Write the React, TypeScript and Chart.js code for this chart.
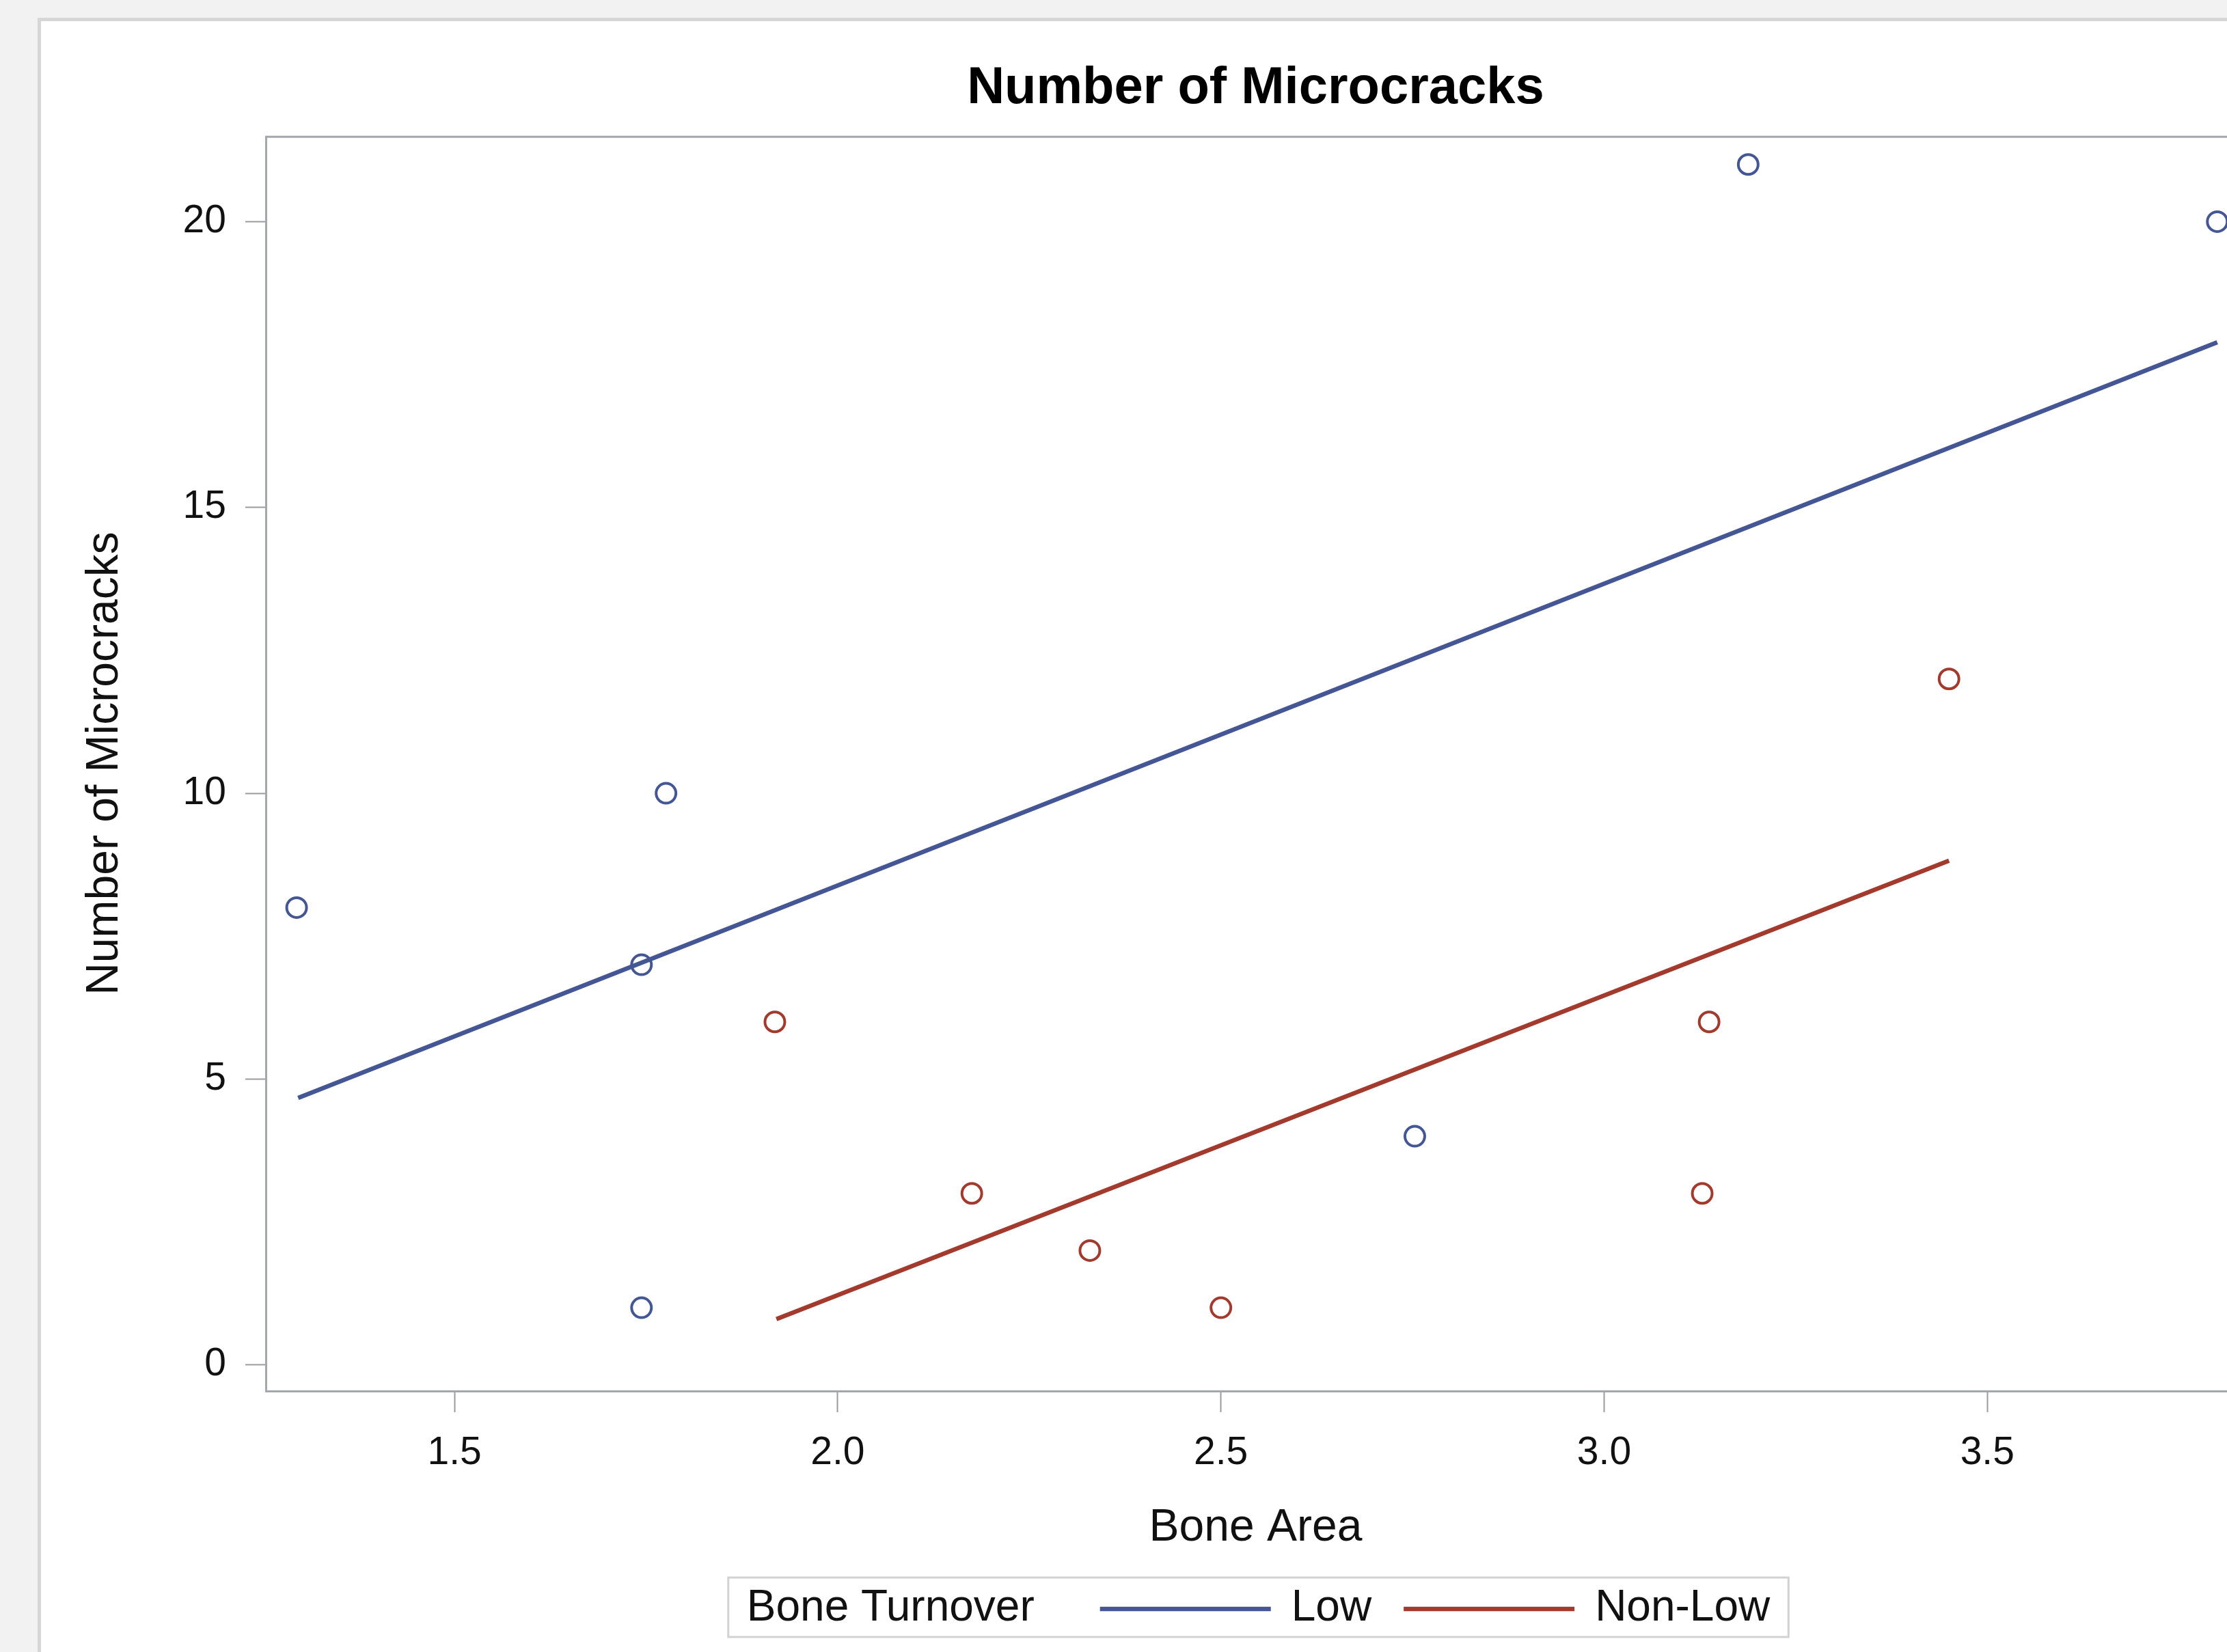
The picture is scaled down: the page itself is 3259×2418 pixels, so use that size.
import React, { useEffect, useRef } from "react";
import { Chart, registerables } from "chart.js";

Chart.register(...registerables);

// ---- data ----
const TITLE = "Number of Microcracks";
const X_LABEL = "Bone Area";
const Y_LABEL = "Number of Microcracks";
const LEGEND_TITLE = "Bone Turnover";
const groups = ["Low", "Non-Low"];

const lowX = [1.294, 1.776, 1.744, 1.744, 2.753, 3.188, 3.8];
const lowY = [8, 10, 7, 1, 4, 21, 20];
const nonLowX = [1.918, 2.175, 2.329, 2.5, 3.137, 3.128, 3.45];
const nonLowY = [6, 3, 2, 1, 6, 3, 12];

const lowFitX = [1.296, 3.8];
const lowFitY = [4.67, 17.89];
const nonLowFitX = [1.92, 3.45];
const nonLowFitY = [0.8, 8.82];

const xTickValues = [1.5, 2.0, 2.5, 3.0, 3.5];
const yTickValues = [0, 5, 10, 15, 20];

// ---- styling ----
const FONT = "'Liberation Sans', Arial, Helvetica, sans-serif";
const BLUE = "#445694";
const RED = "#A23A2E";
const TEXT = "#111111";
const FRAME = "#a2a8ae";
const TICK = "#9a9a9a";

const toPts = (xs: number[], ys: number[]) => xs.map((x, i) => ({ x, y: ys[i] }));

const framePlugin = {
  id: "frame",
  beforeDatasetsDraw(chart: any) {
    const { ctx, chartArea: a } = chart;
    ctx.save();
    ctx.strokeStyle = FRAME;
    ctx.lineWidth = 3;
    ctx.strokeRect(a.left - 1.5, a.top, a.right - a.left + 1.5, a.bottom - a.top + 1.5);
    ctx.restore();
  },
};

const legendPlugin = {
  id: "sasLegend",
  afterDraw(chart: any) {
    const { ctx, chartArea: a } = chart;
    const fits = chart.data.datasets.filter((d: any) => d.isFit);
    ctx.save();
    ctx.font = `64px ${FONT}`;
    const padX = 27;
    const titleGap = 96;
    const lineW = 250;
    const lineGap = 30;
    const itemGap = 47;
    const titleW = ctx.measureText(LEGEND_TITLE).width;
    const itemWs = fits.map((d: any) => ctx.measureText(d.label).width);
    let total = padX + titleW + titleGap + padX;
    itemWs.forEach((w: number, i: number) => {
      total += lineW + lineGap + w + (i < itemWs.length - 1 ? itemGap : 0);
    });
    const cx = (a.left + a.right) / 2 + 4;
    const left = cx - total / 2;
    const top = 2309;
    const bottom = 2396;
    const baseline = 2372;
    const lineY = 2355;
    ctx.strokeStyle = "#d2d2d2";
    ctx.lineWidth = 3;
    ctx.strokeRect(left, top, total, bottom - top);
    ctx.fillStyle = TEXT;
    ctx.textBaseline = "alphabetic";
    ctx.textAlign = "left";
    let x = left + padX;
    ctx.fillText(LEGEND_TITLE, x, baseline);
    x += titleW + titleGap;
    fits.forEach((d: any, i: number) => {
      ctx.strokeStyle = d.borderColor;
      ctx.lineWidth = d.borderWidth;
      ctx.beginPath();
      ctx.moveTo(x, lineY);
      ctx.lineTo(x + lineW, lineY);
      ctx.stroke();
      x += lineW + lineGap;
      ctx.fillText(d.label, x, baseline);
      x += itemWs[i] + itemGap;
    });
    ctx.restore();
  },
};

export default function App() {
  const ref = useRef<HTMLCanvasElement | null>(null);

  useEffect(() => {
    if (!ref.current) return;
    const tickFont = { family: FONT, size: 57 };
    const labelFont = { family: FONT, size: 66, lineHeight: 1.2 };
    const chart = new Chart(ref.current, {
      type: "scatter",
      data: {
        datasets: [
          {
            label: groups[0],
            isFit: true,
            data: toPts(lowFitX, lowFitY),
            showLine: true,
            borderColor: BLUE,
            borderWidth: 6.5,
            pointRadius: 0,
            fill: false,
            order: 3,
          } as any,
          {
            label: groups[1],
            isFit: true,
            data: toPts(nonLowFitX, nonLowFitY),
            showLine: true,
            borderColor: RED,
            borderWidth: 6.5,
            pointRadius: 0,
            fill: false,
            order: 3,
          } as any,
          {
            label: groups[0] + " points",
            data: toPts(lowX, lowY),
            showLine: false,
            borderColor: BLUE,
            backgroundColor: "rgba(0,0,0,0)",
            pointRadius: 14.5,
            pointHoverRadius: 14.5,
            borderWidth: 4,
            order: 1,
          },
          {
            label: groups[1] + " points",
            data: toPts(nonLowX, nonLowY),
            showLine: false,
            borderColor: RED,
            backgroundColor: "rgba(0,0,0,0)",
            pointRadius: 14.5,
            pointHoverRadius: 14.5,
            borderWidth: 4,
            order: 1,
          },
        ],
      },
      options: {
        responsive: false,
        animation: false,
        devicePixelRatio: 1,
        events: [],
        layout: { padding: { left: 60, right: 116, top: 0, bottom: 142 } },
        plugins: {
          legend: { display: false },
          tooltip: { enabled: false },
          title: {
            display: true,
            text: TITLE,
            fullSize: false,
            color: "#000",
            font: { family: FONT, size: 76, weight: "bold", lineHeight: 1.2 },
            padding: { top: 84, bottom: 25 },
          },
        },
        scales: {
          x: {
            type: "linear",
            min: 1.2556,
            max: 3.835,
            afterBuildTicks: (s: any) => {
              s.ticks = xTickValues.map((v) => ({ value: v }));
            },
            afterFit: (s: any) => {
              s.height = 241;
            },
            grid: {
              display: true,
              drawOnChartArea: false,
              drawTicks: true,
              tickLength: 32,
              tickWidth: 2,
              tickColor: TICK,
            },
            border: { display: false },
            ticks: {
              padding: 26,
              font: tickFont,
              color: TEXT,
              maxRotation: 0,
              autoSkip: false,
              callback: (v: any) => Number(v).toFixed(1),
            },
            title: {
              display: true,
              text: X_LABEL,
              color: TEXT,
              font: labelFont,
              padding: { top: 0, bottom: 0 },
            },
          },
          y: {
            type: "linear",
            min: -0.445,
            max: 21.485,
            afterBuildTicks: (s: any) => {
              s.ticks = yTickValues.map((v) => ({ value: v }));
            },
            afterFit: (s: any) => {
              s.width = 331;
            },
            grid: {
              display: true,
              drawOnChartArea: false,
              drawTicks: true,
              tickLength: 32,
              tickWidth: 2,
              tickColor: TICK,
            },
            border: { display: false },
            ticks: {
              padding: 28,
              font: tickFont,
              color: TEXT,
              autoSkip: false,
              callback: (v: any) => String(v),
            },
            title: {
              display: true,
              text: Y_LABEL,
              color: TEXT,
              font: labelFont,
              padding: { top: 54, bottom: 0 },
            },
          },
        },
      } as any,
      plugins: [framePlugin, legendPlugin],
    });
    return () => chart.destroy();
  }, []);

  return (
    <div
      style={{
        position: "fixed",
        left: 0,
        top: 0,
        width: "100vw",
        height: "100vh",
        overflow: "hidden",
        background: "#f2f2f2",
      }}
    >
      <div
        style={{
          position: "absolute",
          left: 55,
          top: 26,
          width: 4000,
          height: 4000,
          background: "#ffffff",
          borderLeft: "5px solid #d6d6d6",
          borderTop: "5px solid #d6d6d6",
          boxSizing: "border-box",
        }}
      />
      <canvas
        ref={ref}
        width={3400}
        height={2418}
        style={{ position: "absolute", left: 0, top: 0, width: 3400, height: 2418 }}
      />
    </div>
  );
}
